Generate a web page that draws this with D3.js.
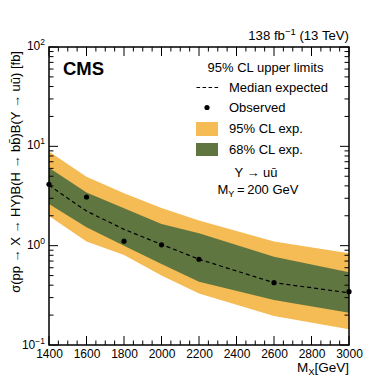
<!DOCTYPE html>
<html><head><meta charset="utf-8">
<script src="https://cdn.jsdelivr.net/npm/d3@7"></script>
<style>body{margin:0;background:#fff}svg text{font-family:"Liberation Sans",Arial,Helvetica,sans-serif;fill:#000}</style>
</head><body><svg id="c" width="389" height="389"></svg>
<script>
const massX=[1400,1600,1800,2000,2200,2600,3000];
const observed=[4.15,3.09,1.11,1.02,0.73,0.424,0.344];
const expMedian=[4.05,2.23,1.46,1.03,0.73,0.424,0.335];
const exp68Up=[6.10,3.42,2.38,1.65,1.33,0.775,0.54];
const exp68Down=[2.63,1.53,1.00,0.653,0.434,0.284,0.211];
const exp95Up=[8.85,4.95,3.37,2.39,1.79,1.10,0.838];
const exp95Down=[1.99,1.10,0.805,0.50,0.33,0.196,0.144];
const xTicks=[1400,1600,1800,2000,2200,2400,2600,2800,3000];
const yTicks=[0.1,1,10,100];
const yTickExp=["\u22121","0","1","2"];
const legendLabels=["95% CL upper limits","Median expected","Observed","95% CL exp.","68% CL exp."];

const svg=d3.select("#c");
const L=49,R=349,T=47,B=345;
const x=d3.scaleLinear().domain([1400,3000]).range([L,R]);
const y=d3.scaleLog().domain([0.1,100]).range([B,T]);
const c95="#F5BB54",c68="#607641";
const FS=13;

const pts=massX.map((m,i)=>({m,obs:observed[i],med:expMedian[i],u68:exp68Up[i],d68:exp68Down[i],u95:exp95Up[i],d95:exp95Down[i]}));
const area=(u,d)=>d3.area().x(p=>x(p.m)).y0(p=>y(p[d])).y1(p=>y(p[u]));
svg.append("path").datum(pts).attr("d",area("u95","d95")).attr("fill",c95);
svg.append("path").datum(pts).attr("d",area("u68","d68")).attr("fill",c68);
svg.append("path").datum(pts).attr("d",d3.line().x(p=>x(p.m)).y(p=>y(p.med)))
  .attr("fill","none").attr("stroke","#000").attr("stroke-width",1.2).attr("stroke-dasharray","4,3");
svg.selectAll("circle.obs").data(pts).enter().append("circle").attr("class","obs")
  .attr("cx",p=>x(p.m)).attr("cy",p=>y(p.obs)).attr("r",2.6).attr("fill","#000");

// ticks
const g=svg.append("g").attr("stroke","#000").attr("stroke-width",1);
const minorX=d3.range(1400,3001,50);
minorX.forEach(v=>{
  const major=v%200===0;const len=major?9:4.5;
  g.append("line").attr("x1",x(v)).attr("x2",x(v)).attr("y1",B).attr("y2",B-len);
  g.append("line").attr("x1",x(v)).attr("x2",x(v)).attr("y1",T).attr("y2",T+len);
});
const yMinor=[];
[0.1,1,10].forEach(d=>{for(let k=2;k<=9;k++)yMinor.push(d*k);});
yMinor.forEach(v=>{
  g.append("line").attr("x1",L).attr("x2",L+4.5).attr("y1",y(v)).attr("y2",y(v));
  g.append("line").attr("x1",R).attr("x2",R-4.5).attr("y1",y(v)).attr("y2",y(v));
});
yTicks.forEach(v=>{
  g.append("line").attr("x1",L).attr("x2",L+9).attr("y1",y(v)).attr("y2",y(v));
  g.append("line").attr("x1",R).attr("x2",R-9).attr("y1",y(v)).attr("y2",y(v));
});
svg.append("rect").attr("x",L).attr("y",T).attr("width",R-L).attr("height",B-T)
  .attr("fill","none").attr("stroke","#000").attr("stroke-width",1.5);

// tick labels
const xAxis=d3.axisBottom(x).tickValues(xTicks).tickSize(0).tickFormat(d3.format("d"));
const xa=svg.append("g").attr("transform",`translate(0,${B})`).call(xAxis);
xa.select(".domain").remove();
xa.selectAll("text").attr("font-size",12).attr("dy",0).attr("y",12.5).attr("font-family","Liberation Sans, Arial, sans-serif");

yTicks.forEach((v,i)=>{
  const t=svg.append("text").attr("x",45).attr("y",y(v)+(v===0.1?4:3)).attr("text-anchor","end").attr("font-size",12);
  t.append("tspan").text("10");
  t.append("tspan").attr("dy",-5).attr("font-size",8.5).text(yTickExp[i]);
});

// header
const lum=svg.append("text").attr("x",R).attr("y",40).attr("text-anchor","end").attr("font-size",13.2);
lum.append("tspan").text("138 fb");
lum.append("tspan").attr("dy",-5).attr("font-size",9.5).text("\u22121");
lum.append("tspan").attr("dy",5).text(" (13 TeV)");
svg.append("text").attr("x",63).attr("y",75).attr("font-size",18.5).attr("font-weight","bold").text("CMS");

// legend
svg.append("text").attr("x",265.5).attr("y",72).attr("text-anchor","middle").attr("font-size",FS).text(legendLabels[0]);
svg.append("line").attr("x1",196.5).attr("x2",218.5).attr("y1",87.5).attr("y2",87.5).attr("stroke","#000").attr("stroke-width",1.2).attr("stroke-dasharray","3.6,2.4");
svg.append("text").attr("x",229).attr("y",92).attr("font-size",FS).text(legendLabels[1]);
svg.append("circle").attr("cx",207).attr("cy",107.5).attr("r",2.6).attr("fill","#000");
svg.append("text").attr("x",229).attr("y",112).attr("font-size",FS).text(legendLabels[2]);
svg.append("rect").attr("x",196).attr("y",122).attr("width",22).attr("height",14).attr("fill",c95);
svg.append("text").attr("x",229).attr("y",133).attr("font-size",FS).text(legendLabels[3]);
svg.append("rect").attr("x",196).attr("y",143).attr("width",22).attr("height",13).attr("fill",c68);
svg.append("text").attr("x",229).attr("y",153.5).attr("font-size",FS).text(legendLabels[4]);

svg.append("text").attr("x",256).attr("y",177).attr("text-anchor","middle").attr("font-size",FS).text("Y \u2192 u\u016B");
const my=svg.append("text").attr("x",258).attr("y",194).attr("text-anchor","middle").attr("font-size",FS);
my.append("tspan").text("M");
my.append("tspan").attr("dy",3).attr("font-size",9).text("Y");
my.append("tspan").attr("dy",-3).text("\u2009=\u2009200 GeV");

// axis titles
const xt=svg.append("text").attr("x",R).attr("y",372).attr("text-anchor","end").attr("font-size",13.5);
xt.append("tspan").text("M");
xt.append("tspan").attr("dy",3).attr("font-size",9.5).text("X");
xt.append("tspan").attr("dy",-3).text("[GeV]");
svg.append("text").attr("transform","translate(20,51) rotate(-90)").attr("text-anchor","end").attr("font-size",13)
  .text("\u03C3(pp \u2192 X \u2192 HY)B(H \u2192 bb\u0304)B(Y \u2192 u\u016B) [fb]");
</script></body></html>
